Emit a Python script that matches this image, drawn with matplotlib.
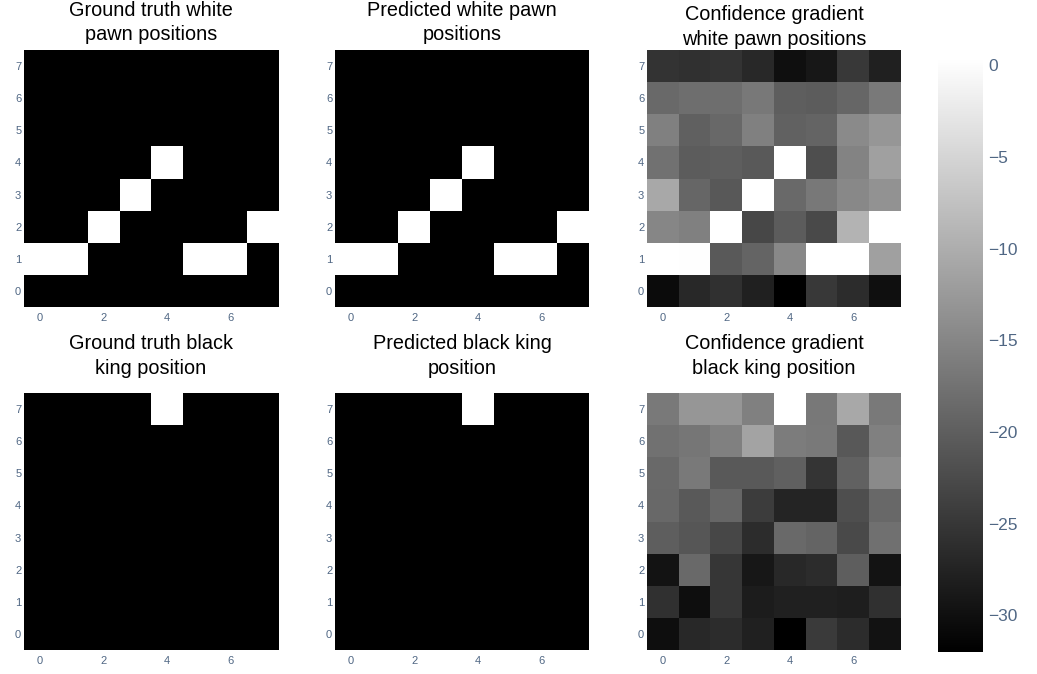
import matplotlib
matplotlib.use("Agg")
import matplotlib.pyplot as plt
import numpy as np

plt.rcParams['font.family'] = ['Liberation Sans', 'DejaVu Sans']

# board rows listed from rank 0 (bottom) to rank 7 (top), columns 0..7
white_pawn_true = [
    [0, 0, 0, 0, 0, 0, 0, 0],
    [1, 1, 0, 0, 0, 1, 1, 0],
    [0, 0, 1, 0, 0, 0, 0, 1],
    [0, 0, 0, 1, 0, 0, 0, 0],
    [0, 0, 0, 0, 1, 0, 0, 0],
    [0, 0, 0, 0, 0, 0, 0, 0],
    [0, 0, 0, 0, 0, 0, 0, 0],
    [0, 0, 0, 0, 0, 0, 0, 0],
]
white_pawn_pred = [
    [0, 0, 0, 0, 0, 0, 0, 0],
    [1, 1, 0, 0, 0, 1, 1, 0],
    [0, 0, 1, 0, 0, 0, 0, 1],
    [0, 0, 0, 1, 0, 0, 0, 0],
    [0, 0, 0, 0, 1, 0, 0, 0],
    [0, 0, 0, 0, 0, 0, 0, 0],
    [0, 0, 0, 0, 0, 0, 0, 0],
    [0, 0, 0, 0, 0, 0, 0, 0],
]
white_pawn_grad = [
    [-30.5, -26.9, -25.9, -27.7, -32.0, -24.9, -26.2, -30.0],
    [0.3, 0.2, -20.6, -19.3, -14.7, 0.3, 0.3, -11.7],
    [-15.0, -15.7, 0.3, -22.9, -20.3, -22.6, -9.1, 0.3],
    [-10.7, -19.0, -20.8, 0.3, -18.5, -16.8, -14.7, -13.5],
    [-17.5, -20.3, -20.1, -20.6, 0.3, -22.1, -15.2, -11.7],
    [-15.7, -19.8, -18.8, -15.7, -19.6, -19.3, -14.5, -13.0],
    [-18.5, -18.0, -18.0, -16.8, -20.1, -20.3, -19.0, -16.5],
    [-25.5, -25.9, -25.5, -26.9, -30.0, -29.0, -24.9, -27.9],
]
black_king_true = [
    [0, 0, 0, 0, 0, 0, 0, 0],
    [0, 0, 0, 0, 0, 0, 0, 0],
    [0, 0, 0, 0, 0, 0, 0, 0],
    [0, 0, 0, 0, 0, 0, 0, 0],
    [0, 0, 0, 0, 0, 0, 0, 0],
    [0, 0, 0, 0, 0, 0, 0, 0],
    [0, 0, 0, 0, 0, 0, 0, 0],
    [0, 0, 0, 0, 1, 0, 0, 0],
]
black_king_pred = [
    [0, 0, 0, 0, 0, 0, 0, 0],
    [0, 0, 0, 0, 0, 0, 0, 0],
    [0, 0, 0, 0, 0, 0, 0, 0],
    [0, 0, 0, 0, 0, 0, 0, 0],
    [0, 0, 0, 0, 0, 0, 0, 0],
    [0, 0, 0, 0, 0, 0, 0, 0],
    [0, 0, 0, 0, 0, 0, 0, 0],
    [0, 0, 0, 0, 1, 0, 0, 0],
]
black_king_grad = [
    [-30.2, -26.9, -26.2, -27.9, -32.0, -24.6, -26.2, -29.7],
    [-25.9, -30.2, -25.1, -28.4, -27.7, -27.7, -28.2, -25.9],
    [-29.5, -18.5, -25.1, -29.0, -26.7, -26.2, -20.1, -29.5],
    [-20.1, -21.1, -22.9, -26.4, -18.5, -19.3, -22.6, -17.8],
    [-18.8, -20.6, -19.0, -24.4, -27.4, -27.4, -22.1, -18.8],
    [-18.5, -16.5, -20.6, -20.6, -19.8, -25.4, -19.6, -14.5],
    [-17.5, -17.0, -15.7, -11.2, -16.3, -16.5, -20.8, -15.7],
    [-16.5, -13.0, -13.0, -15.7, 0.3, -16.8, -10.7, -16.5],
]

titles = [
    "Ground truth white\npawn positions",
    "Predicted white pawn\npositions",
    "Confidence gradient\nwhite pawn positions",
    "Ground truth black\nking position",
    "Predicted black king\nposition",
    "Confidence gradient\nblack king position",
]
grids = [white_pawn_true, white_pawn_pred, white_pawn_grad,
         black_king_true, black_king_pred, black_king_grad]
cbar_ticks = [0, -5, -10, -15, -20, -25, -30]
grad_min, grad_max = -32.0, 0.4

W, H = 1037, 674
fig = plt.figure(figsize=(W / 100, H / 100), dpi=100)

tick_color = '#506784'
col_x = [24, 335, 647]
row_y = [50, 393]
box_w, box_h = 254, 257
# title gap above each panel (points) and line spacing
title_pads = [7.3, 7.3, 3.3, 13.8, 13.8, 13.8]
title_ls = [1.3, 1.3, 1.42, 1.42, 1.42, 1.42]

for i, (grid, title) in enumerate(zip(grids, titles)):
    r, c = divmod(i, 3)
    left = col_x[c]
    top = row_y[r]
    ax = fig.add_axes([left / W, 1 - (top + box_h) / H, box_w / W, box_h / H])
    data = np.array(grid, dtype=float)
    if c == 2:
        ax.imshow(data, cmap='gray', vmin=grad_min, vmax=grad_max,
                  origin='lower', aspect='auto', interpolation='nearest')
    else:
        ax.imshow(data, cmap='gray', vmin=0, vmax=1,
                  origin='lower', aspect='auto', interpolation='nearest')
    ax.set_xticks([0, 2, 4, 6])
    ax.set_yticks(range(8))
    ax.tick_params(length=0, labelsize=8, labelcolor=tick_color, pad=4)
    ax.tick_params(axis='y', pad=2)
    for s in ax.spines.values():
        s.set_visible(False)
    ax.set_title(title, fontsize=14.3, color='black', pad=title_pads[i],
                 linespacing=title_ls[i])

# colorbar
cax = fig.add_axes([938 / W, 1 - 652 / H, 45 / W, (652 - 58) / H])
sm = plt.cm.ScalarMappable(cmap='gray',
                           norm=plt.Normalize(vmin=grad_min, vmax=grad_max))
cb = fig.colorbar(sm, cax=cax, ticks=cbar_ticks)
cb.outline.set_visible(False)
cb.ax.tick_params(length=0, labelsize=12.5, labelcolor=tick_color, pad=4)
cb.ax.set_yticklabels(['0'] + ['\u2212' + str(abs(t)) for t in cbar_ticks[1:]])

fig.savefig('out.png', dpi=100)
